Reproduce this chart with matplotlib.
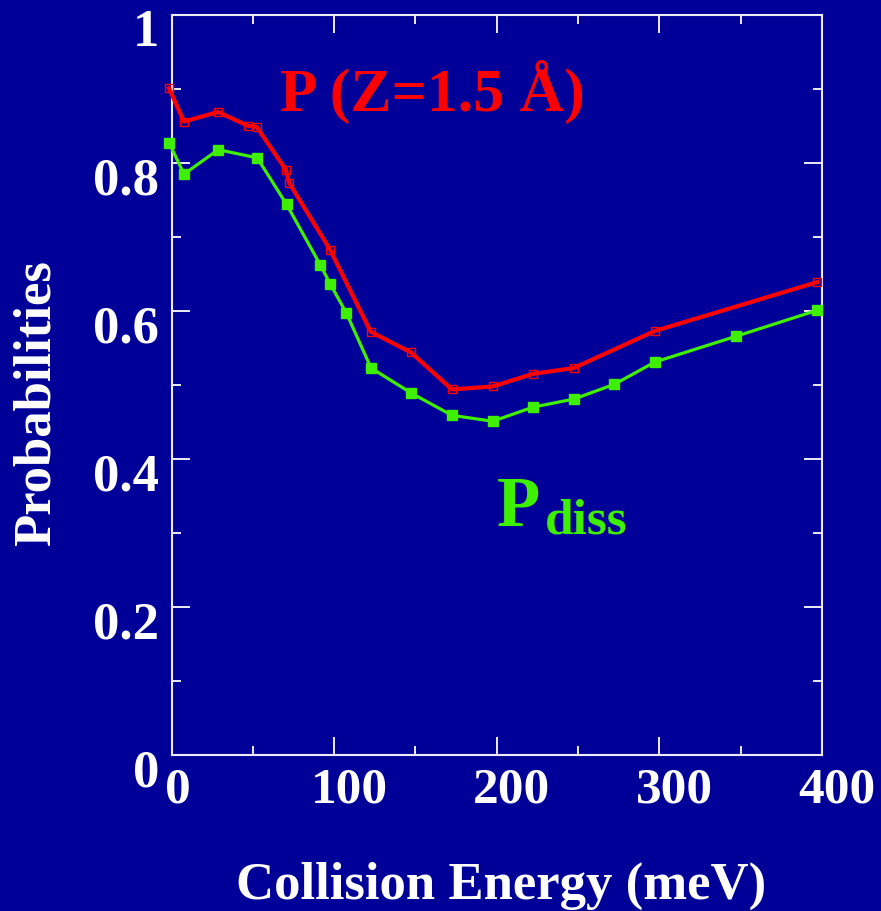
import matplotlib
matplotlib.use("Agg")
import matplotlib.pyplot as plt
from matplotlib.ticker import MultipleLocator
from matplotlib.transforms import ScaledTranslation

# Collision energy (meV) and probabilities
energy_z15 = [-1.5, 7.7, 28.7, 47.2, 52.3, 70.3, 72.4, 97.5, 122.5, 147.3,
              172.5, 197.5, 222.2, 247.4, 297.2, 397.0]
prob_z15 = [0.901, 0.856, 0.869, 0.850, 0.849, 0.791, 0.773, 0.683, 0.572,
            0.544, 0.494, 0.498, 0.515, 0.523, 0.573, 0.639]

energy_diss = [-1.4, 7.7, 28.7, 52.7, 70.8, 91.6, 97.5, 107.6, 122.7, 147.5,
               172.5, 197.5, 222.2, 247.4, 272.4, 297.2, 347.4, 397.1]
prob_diss = [0.827, 0.785, 0.818, 0.807, 0.744, 0.662, 0.637, 0.597, 0.523,
             0.489, 0.459, 0.451, 0.470, 0.481, 0.501, 0.531, 0.566, 0.601]

x_ticks = [0, 100, 200, 300, 400]
x_tick_labels = ["0", "100", "200", "300", "400"]
y_ticks = [0, 0.2, 0.4, 0.6, 0.8, 1.0]
y_tick_labels = ["0", "0.2", "0.4", "0.6", "0.8", "1"]

BG = "#000099"
RED = "#ff0000"
GREEN = "#3ef000"
AXIS = "#ececfa"
FONT = "Liberation Serif"

W, H, DPI = 881, 911, 100
fig = plt.figure(figsize=(W / DPI, H / DPI), dpi=DPI, facecolor=BG)
ax = fig.add_axes([171.5 / W, 1 - 755 / H, (822 - 171.5) / W, (755 - 15) / H])
ax.set_facecolor(BG)

ax.plot(energy_z15, prob_z15, color=RED, lw=3.0, marker="s", ms=6.2,
        mfc="none", mec=RED, mew=1.0, clip_on=False, zorder=3)
ax.plot(energy_diss, prob_diss, color=GREEN, lw=2.3, marker="s", ms=7.8,
        mfc=GREEN, mec=GREEN, clip_on=False, zorder=4)

ax.set_xlim(0, 400)
ax.set_ylim(0, 1)
ax.set_xticks(x_ticks)
ax.set_xticklabels(x_tick_labels)
ax.set_yticks(y_ticks)
ax.set_yticklabels(y_tick_labels)
ax.xaxis.set_minor_locator(MultipleLocator(50))
ax.yaxis.set_minor_locator(MultipleLocator(0.1))

for sp in ax.spines.values():
    sp.set_color(AXIS)
    sp.set_linewidth(1.5)

ax.tick_params(which="both", direction="in", top=True, right=True,
               colors=AXIS, width=1.4)
ax.tick_params(which="major", length=13)
ax.tick_params(which="minor", length=6.5)
ax.tick_params(axis="y", which="major", pad=9, labelcolor="white")
ax.tick_params(axis="x", which="major", pad=9, labelcolor="white")

for lab in ax.get_yticklabels():
    lab.set_fontfamily(FONT)
    lab.set_fontweight("bold")
    lab.set_fontsize(38)
    lab.set_transform(lab.get_transform() +
                      ScaledTranslation(0, -13 / DPI, fig.dpi_scale_trans))

for i, lab in enumerate(ax.get_xticklabels()):
    lab.set_fontfamily(FONT)
    lab.set_fontweight("bold")
    lab.set_fontsize(37)
    dx = 6 if i == 0 else 15
    lab.set_transform(lab.get_transform() +
                      ScaledTranslation(dx / DPI, 0, fig.dpi_scale_trans))

# Axis titles
fig.text(501 / W, 1 - 899 / H, "Collision Energy (meV)", color="white",
         fontfamily=FONT, fontweight="bold", fontsize=38,
         ha="center", va="baseline")
fig.text(37 / W, 1 - 403 / H, "Probabilities", color="white",
         fontfamily=FONT, fontweight="bold", fontsize=38, rotation=90,
         ha="center", va="center")

# Curve annotations
fig.text(280 / W, 1 - 111 / H, "P (Z=1.5 Å)", color=RED,
         fontfamily=FONT, fontweight="bold", fontsize=44.5,
         ha="left", va="baseline")
fig.text(497 / W, 1 - 526 / H, "P", color=GREEN,
         fontfamily=FONT, fontweight="bold", fontsize=51,
         ha="left", va="baseline")
fig.text(545 / W, 1 - 534 / H, "diss", color=GREEN,
         fontfamily=FONT, fontweight="bold", fontsize=37,
         ha="left", va="baseline")

fig.savefig("out.png", dpi=DPI, facecolor=BG)
